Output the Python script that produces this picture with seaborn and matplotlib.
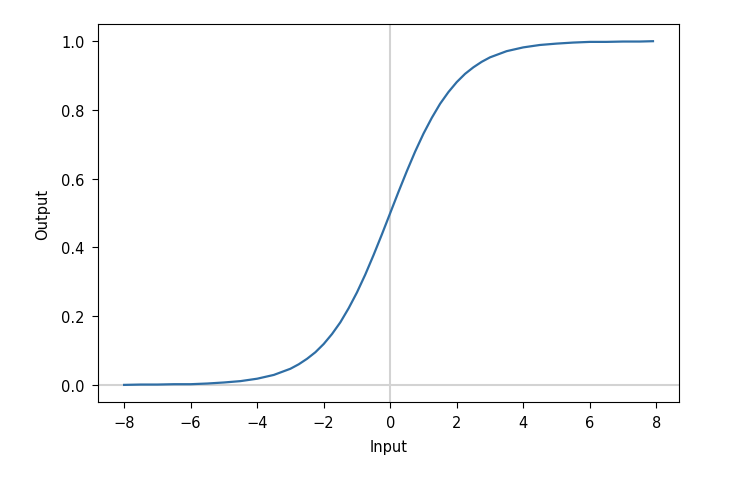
import matplotlib
matplotlib.use("Agg")
import matplotlib.pyplot as plt
import seaborn as sns

# values
x_input = [-8.0, -7.5, -7.0, -6.5, -6.0, -5.5, -5.0, -4.5, -4.0, -3.5,
           -3.0, -2.75, -2.5, -2.25, -2.0, -1.75, -1.5, -1.25, -1.0, -0.75,
           -0.5, -0.25, 0.0, 0.25, 0.5, 0.75, 1.0, 1.25, 1.5, 1.75,
           2.0, 2.25, 2.5, 2.75, 3.0, 3.5, 4.0, 4.5, 5.0, 5.5,
           6.0, 6.5, 7.0, 7.5, 7.9]
y_output = [0.000, 0.001, 0.001, 0.002, 0.002, 0.004, 0.007, 0.011, 0.018, 0.029,
            0.047, 0.060, 0.076, 0.095, 0.119, 0.148, 0.182, 0.223, 0.269, 0.321,
            0.378, 0.438, 0.500, 0.562, 0.622, 0.679, 0.731, 0.777, 0.818, 0.852,
            0.881, 0.905, 0.924, 0.940, 0.953, 0.971, 0.982, 0.989, 0.993, 0.996,
            0.998, 0.998, 0.999, 0.999, 1.000]

fig, ax = plt.subplots(figsize=(7.29, 4.81), dpi=100)
fig.subplots_adjust(left=0.134, right=0.932, top=0.948, bottom=0.162)

ax.axhline(0, color='lightgray', linewidth=1.5, zorder=1)
ax.axvline(0, color='lightgray', linewidth=1.5, zorder=1)
sns.lineplot(x=x_input, y=y_output, ax=ax, color='#2f6ea5', linewidth=1.6, zorder=2)

ax.set_xlabel('Input', fontsize=10.5, labelpad=6)
ax.set_ylabel('Output', fontsize=10.5, labelpad=8)
ax.set_xticks([-8, -6, -4, -2, 0, 2, 4, 6, 8])
ax.tick_params(labelsize=10.5, length=4.5, pad=5)

fig.savefig('out.png', dpi=100)
